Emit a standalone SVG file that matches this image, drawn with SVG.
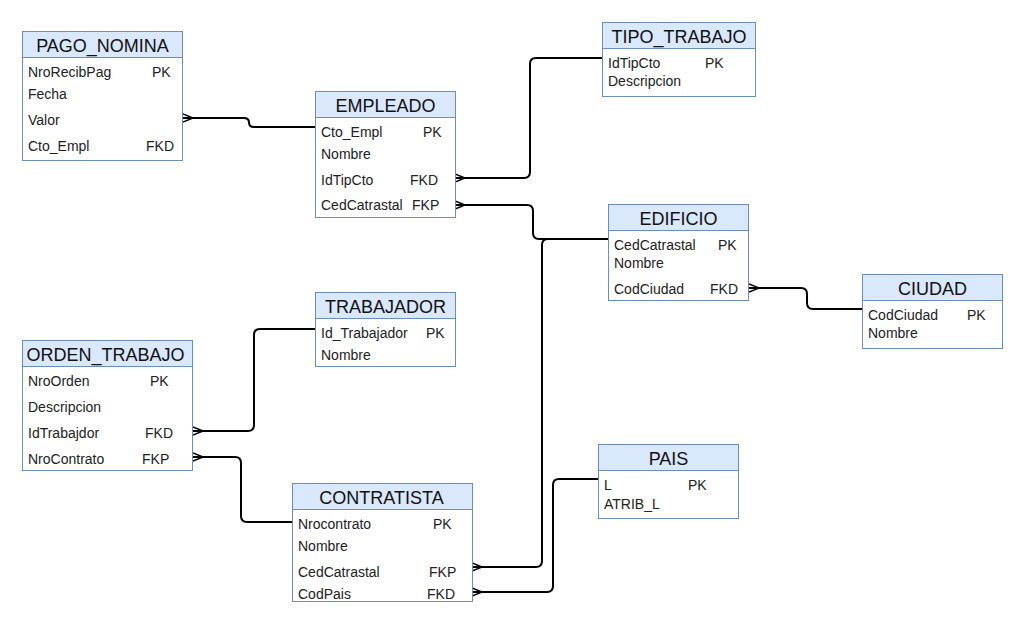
<svg xmlns="http://www.w3.org/2000/svg" width="1025" height="627" viewBox="0 0 1025 627">
<style>
.hd{fill:#dae8fc;stroke:#6c8ebf;stroke-width:1}
.bd{fill:#ffffff;stroke:#6c8ebf;stroke-width:1}
.ht{font-family:"Liberation Sans",Arial,sans-serif;font-size:18px;fill:#111;text-anchor:middle}
.rt{font-family:"Liberation Sans",Arial,sans-serif;font-size:14px;fill:#222}
.cn{fill:none;stroke:#000;stroke-width:2}
</style>
<defs>
<marker id="crow" viewBox="0 0 12 10" refX="0" refY="5" markerWidth="12" markerHeight="10" markerUnits="userSpaceOnUse" orient="auto">
<path d="M0,1 L10,5 L0,9 M0,5 L10,5" fill="none" stroke="#000" stroke-width="1.5"/>
</marker>
</defs>
<rect width="1025" height="627" fill="#ffffff"/>

<g id="connectors">
<path class="cn" marker-start="url(#crow)" d="M183,118 H244 Q249,118 249,122.5 Q249,127 254,127 H316"/>
<path class="cn" marker-start="url(#crow)" d="M455,178 H524 Q530,178 530,172 V64 Q530,58 536,58 H602"/>
<path class="cn" marker-start="url(#crow)" d="M455,205 H527 Q533,205 533,211 V233 Q533,239 539,239 H608"/>
<path class="cn" marker-start="url(#crow)" d="M472,567 H536 Q542,567 542,561 V245 Q542,239 548,239 H608"/>
<path class="cn" marker-start="url(#crow)" d="M749,288 H801 Q807,288 807,294 V303 Q807,309 813,309 H862"/>
<path class="cn" marker-start="url(#crow)" d="M193,431 H248 Q254,431 254,425 V335 Q254,329 260,329 H316"/>
<path class="cn" marker-start="url(#crow)" d="M193,457 H235 Q241,457 241,463 V516 Q241,522 247,522 H292"/>
<path class="cn" marker-start="url(#crow)" d="M472,592 H547 Q553,592 553,586 V485 Q553,479 559,479 H598"/>
</g>

<g id="PAGO_NOMINA">
<rect class="bd" x="22.5" y="31.5" width="160" height="129"/>
<rect class="hd" x="22.5" y="31.5" width="160" height="26"/>
<text class="ht" x="102.5" y="51.5">PAGO_NOMINA</text>
<text class="rt" x="28" y="77">NroRecibPag</text><text class="rt" x="152" y="77">PK</text>
<text class="rt" x="28" y="99">Fecha</text>
<text class="rt" x="28" y="125">Valor</text>
<text class="rt" x="28" y="151">Cto_Empl</text><text class="rt" x="146" y="151">FKD</text>
</g>

<g id="EMPLEADO">
<rect class="bd" x="315.5" y="91.5" width="140" height="126"/>
<rect class="hd" x="315.5" y="91.5" width="140" height="26"/>
<text class="ht" x="385.5" y="111.5">EMPLEADO</text>
<text class="rt" x="321" y="137">Cto_Empl</text><text class="rt" x="423" y="137">PK</text>
<text class="rt" x="321" y="159">Nombre</text>
<text class="rt" x="321" y="185">IdTipCto</text><text class="rt" x="410" y="185">FKD</text>
<text class="rt" x="321" y="210">CedCatrastal</text><text class="rt" x="412" y="210">FKP</text>
</g>

<g id="TIPO_TRABAJO">
<rect class="bd" x="602.5" y="22.5" width="153" height="74"/>
<rect class="hd" x="602.5" y="22.5" width="153" height="26"/>
<text class="ht" x="679" y="42.5">TIPO_TRABAJO</text>
<text class="rt" x="608" y="68">IdTipCto</text><text class="rt" x="705" y="68">PK</text>
<text class="rt" x="608" y="86">Descripcion</text>
</g>

<g id="EDIFICIO">
<rect class="bd" x="608.5" y="204.5" width="140" height="96"/>
<rect class="hd" x="608.5" y="204.5" width="140" height="26"/>
<text class="ht" x="678.5" y="224.5">EDIFICIO</text>
<text class="rt" x="614" y="250">CedCatrastal</text><text class="rt" x="718" y="250">PK</text>
<text class="rt" x="614" y="268">Nombre</text>
<text class="rt" x="614" y="294">CodCiudad</text><text class="rt" x="710" y="294">FKD</text>
</g>

<g id="CIUDAD">
<rect class="bd" x="862.5" y="274.5" width="140" height="74"/>
<rect class="hd" x="862.5" y="274.5" width="140" height="26"/>
<text class="ht" x="932.5" y="294.5">CIUDAD</text>
<text class="rt" x="868" y="320">CodCiudad</text><text class="rt" x="967" y="320">PK</text>
<text class="rt" x="868" y="338">Nombre</text>
</g>

<g id="TRABAJADOR">
<rect class="bd" x="315.5" y="292.5" width="140" height="74"/>
<rect class="hd" x="315.5" y="292.5" width="140" height="26"/>
<text class="ht" x="385.5" y="312.5">TRABAJADOR</text>
<text class="rt" x="321" y="338">Id_Trabajador</text><text class="rt" x="426" y="338">PK</text>
<text class="rt" x="321" y="360">Nombre</text>
</g>

<g id="ORDEN_TRABAJO">
<rect class="bd" x="22.5" y="340.5" width="170" height="130"/>
<rect class="hd" x="22.5" y="340.5" width="170" height="26"/>
<text class="ht" x="105.5" y="360.5">ORDEN_TRABAJO</text>
<text class="rt" x="28" y="386">NroOrden</text><text class="rt" x="150" y="386">PK</text>
<text class="rt" x="28" y="412">Descripcion</text>
<text class="rt" x="28" y="438">IdTrabajdor</text><text class="rt" x="145" y="438">FKD</text>
<text class="rt" x="28" y="464">NroContrato</text><text class="rt" x="142" y="464">FKP</text>
</g>

<g id="CONTRATISTA">
<rect class="bd" x="292.5" y="483.5" width="180" height="118"/>
<rect class="hd" x="292.5" y="483.5" width="180" height="26"/>
<text class="ht" x="381.5" y="503.5">CONTRATISTA</text>
<text class="rt" x="298" y="529">Nrocontrato</text><text class="rt" x="433" y="529">PK</text>
<text class="rt" x="298" y="551">Nombre</text>
<text class="rt" x="298" y="577">CedCatrastal</text><text class="rt" x="429" y="577">FKP</text>
<text class="rt" x="298" y="599">CodPais</text><text class="rt" x="427" y="599">FKD</text>
</g>

<g id="PAIS">
<rect class="bd" x="598.5" y="444.5" width="140" height="74"/>
<rect class="hd" x="598.5" y="444.5" width="140" height="26"/>
<text class="ht" x="668.5" y="464.5">PAIS</text>
<text class="rt" x="604" y="490">L</text><text class="rt" x="688" y="490">PK</text>
<text class="rt" x="604" y="509">ATRIB_L</text>
</g>
</svg>
